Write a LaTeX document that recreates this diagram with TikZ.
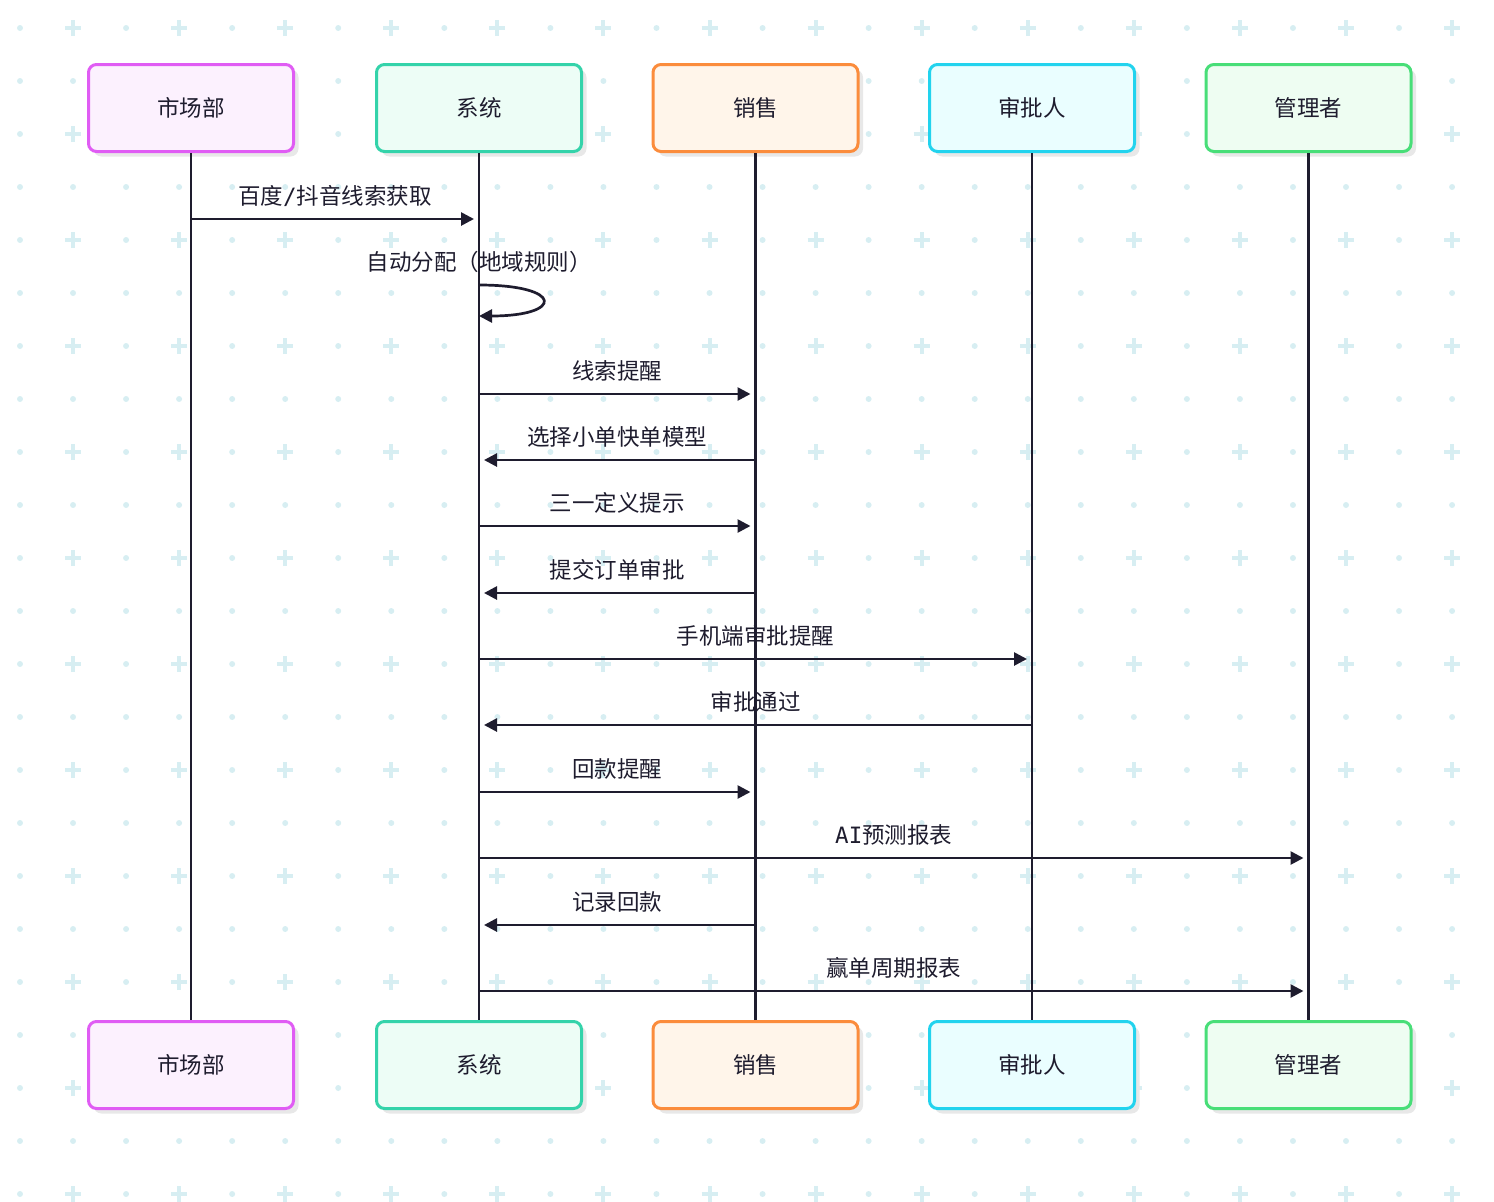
\documentclass[tikz,border=0pt]{standalone}
\usepackage{fontspec}
\setmainfont{Noto Sans CJK SC}
\newfontfamily\latinmono{DejaVu Sans Mono}
\usepackage{tikz}
\usetikzlibrary{arrows.meta,shadows}

\definecolor{ink}{HTML}{1E1C2E}
\definecolor{dotblue}{HTML}{D7EEF2}
\definecolor{pinkline}{HTML}{E05CF4}
\definecolor{pinkfill}{HTML}{FCF1FE}
\definecolor{tealline}{HTML}{34D3AA}
\definecolor{tealfill}{HTML}{EDFDF6}
\definecolor{orangeline}{HTML}{FB8C3C}
\definecolor{orangefill}{HTML}{FFF5EA}
\definecolor{cyanline}{HTML}{22D3EE}
\definecolor{cyanfill}{HTML}{EAFEFF}
\definecolor{greenline}{HTML}{48DE78}
\definecolor{greenfill}{HTML}{EEFDF2}

\begin{document}
\begin{tikzpicture}[x=1pt,y=1pt,->,>={Triangle[length=13pt,width=13pt]},shorten >=5pt,
  line width=2.7pt,color=ink,font=\fontsize{22.5}{26}\selectfont,node distance=276.5pt,
  main node/.style={rectangle,draw,rounded corners=8pt,line width=3pt,
    minimum width=205pt,minimum height=87pt,
    drop shadow={shadow xshift=5pt,shadow yshift=-5pt,fill=black!9,opacity=1}}]

  \useasboundingbox (0,0) rectangle (1494,-1202);

  % dotted background
  \begin{scope}[-,shorten >=0pt,dotblue]
    \foreach \i in {0,...,27}
      \foreach \j in {0,...,22}{
        \ifodd\i\relax
          \ifodd\j\relax
            \fill (20+53.04*\i,-28-53*\j) circle (3);
          \else
            \draw[line width=4pt] (20+53.04*\i,-28-53*\j) +(-8,0) -- +(8,0) +(0,-8) -- +(0,8);
          \fi
        \else
          \fill (20+53.04*\i,-28-53*\j) circle (3);
        \fi
      }
  \end{scope}

  \node[main node,draw=pinkline,fill=pinkfill] (1) at (191,-108) {市场部};
  \node[main node,draw=tealline,fill=tealfill] (2) at (479,-108) {系统};
  \node[main node,draw=orangeline,fill=orangefill] (3) [right of=2] {销售};
  \node[main node,draw=cyanline,fill=cyanfill] (4) [right of=3] {审批人};
  \node[main node,draw=greenline,fill=greenfill] (5) [right of=4] {管理者};

  \node[main node,draw=pinkline,fill=pinkfill] (1b) [below of=1,node distance=957pt] {市场部};
  \node[main node,draw=tealline,fill=tealfill] (2b) [below of=2,node distance=957pt] {系统};
  \node[main node,draw=orangeline,fill=orangefill] (3b) [below of=3,node distance=957pt] {销售};
  \node[main node,draw=cyanline,fill=cyanfill] (4b) [below of=4,node distance=957pt] {审批人};
  \node[main node,draw=greenline,fill=greenfill] (5b) [below of=5,node distance=957pt] {管理者};

  \foreach \n/\y in {1/219,2/285,3/316,4/394,5/460,6/526,7/593,8/659,9/725,10/792,11/858,12/925,13/991}
    \coordinate (r\n) at (0,-\y);

  \path[every node/.style={above=8pt}]
    (1 |- r1) edge node {百度{\latinmono /}抖音线索获取} (2 |- r1)
    (2 |- r4) edge node {线索提醒} (3 |- r4)
    (3 |- r5) edge node {选择小单快单模型} (2 |- r5)
    (2 |- r6) edge node {三一定义提示} (3 |- r6)
    (3 |- r7) edge node {提交订单审批} (2 |- r7)
    (2 |- r8) edge node {手机端审批提醒} (4 |- r8)
    (4 |- r9) edge node {审批通过} (2 |- r9)
    (2 |- r10) edge node {回款提醒} (3 |- r10)
    (2 |- r11) edge node {{\latinmono AI}预测报表} (5 |- r11)
    (3 |- r12) edge node {记录回款} (2 |- r12)
    (2 |- r13) edge node {赢单周期报表} (5 |- r13);

  \node (loop) [above=8pt] at (2 |- r2) {自动分配（地域规则）};
  \draw[shorten >=0pt] (2 |- r2) .. controls +(85,0) and +(85,0) .. (2 |- r3);

  \foreach \n in {1,...,5}
    \draw[-,shorten >=0pt] (\n.south) -- (\n b.north);

\end{tikzpicture}
\end{document}
